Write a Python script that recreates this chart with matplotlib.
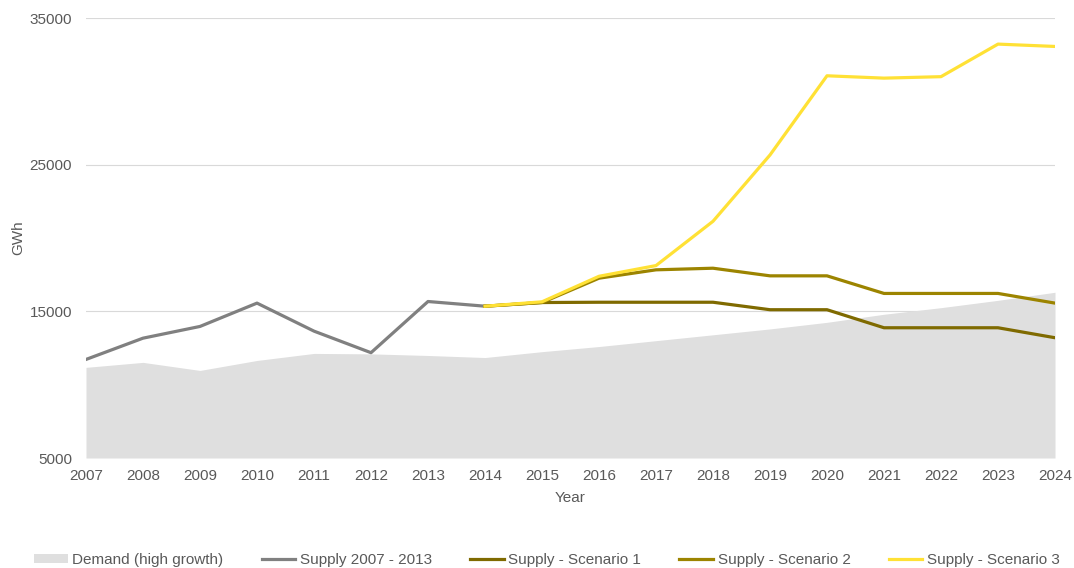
import numpy as np
import matplotlib.pyplot as plt

plt.rcParams['font.family'] = ['Liberation Sans', 'DejaVu Sans']

# Data (GWh)
years = list(range(2007, 2025))
demand_high = [11180, 11520, 10970, 11650, 12130, 12100, 11990, 11850, 12250,
               12600, 13000, 13400, 13800, 14250, 14800, 15250, 15750, 16300]

supply_years = list(range(2007, 2015))
supply_hist = [11720, 13170, 13970, 15560, 13650, 12180, 15670, 15350]

scenario_years = list(range(2014, 2025))
scenario_1 = [15350, 15600, 15620, 15620, 15620, 15110, 15110, 13880, 13880, 13880, 13200]
scenario_2 = [15350, 15600, 17260, 17830, 17940, 17420, 17420, 16220, 16220, 16220, 15560]
scenario_3 = [15350, 15650, 17390, 18120, 21140, 25660, 31060, 30900, 31000, 33220, 33060]

y_ticks = [5000, 15000, 25000, 35000]

text_col = '#595959'

fig = plt.figure(figsize=(10.74, 5.68), dpi=100)
ax = fig.add_axes([86 / 1074, 1 - 458 / 568, (1055 - 86) / 1074, (458 - 18) / 568])

ax.fill_between(years, 5000, demand_high, color='#dfdfdf', linewidth=0,
                label='Demand (high growth)', zorder=2)
ax.plot(supply_years, supply_hist, color='#808080', lw=2.3,
        label='Supply 2007 - 2013', zorder=3)
ax.plot(scenario_years, scenario_1, color='#7f6a00', lw=2.3,
        label='Supply - Scenario 1', zorder=4)
ax.plot(scenario_years, scenario_2, color='#9c8400', lw=2.3,
        label='Supply - Scenario 2', zorder=4)
ax.plot(scenario_years, scenario_3, color='#ffe135', lw=2.3,
        label='Supply - Scenario 3', zorder=5)

ax.set_xlim(2007, 2024)
ax.set_ylim(5000, 35000)
ax.set_xticks(years)
ax.set_yticks(y_ticks)
ax.grid(axis='y', color='#d9d9d9', lw=0.8, zorder=1)
ax.set_axisbelow(True)
for s in ax.spines.values():
    s.set_visible(False)
ax.tick_params(length=0, labelsize=11, labelcolor=text_col)
ax.tick_params(axis='x', pad=8)
ax.tick_params(axis='y', pad=10)

ax.set_xlabel('Year', fontsize=11, color=text_col, labelpad=6)
ax.set_ylabel('GWh', fontsize=11, color=text_col, labelpad=3)

fig.legend(loc='center', bbox_to_anchor=(0.5 + 10 / 1074, 1 - 560 / 568), ncol=5,
           frameon=False, fontsize=11, labelcolor=text_col,
           handlelength=2.2, handletextpad=0.3, columnspacing=2.5,
           handleheight=0.55)

fig.savefig('out.png', dpi=100)
